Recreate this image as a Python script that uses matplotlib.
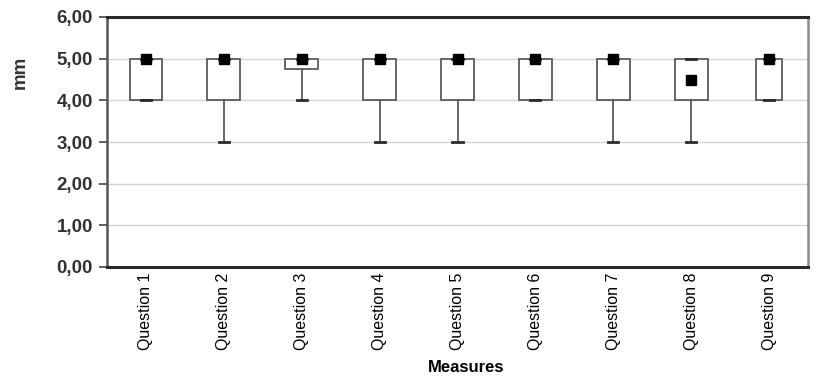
import matplotlib
matplotlib.use('Agg')
import matplotlib.pyplot as plt

# Box plot summary per question
labels = ['Question 1', 'Question 2', 'Question 3', 'Question 4', 'Question 5',
          'Question 6', 'Question 7', 'Question 8', 'Question 9']
box_low = [4.0, 4.0, 4.75, 4.0, 4.0, 4.0, 4.0, 4.0, 4.0]
box_high = [5.0, 5.0, 5.0, 5.0, 5.0, 5.0, 5.0, 5.0, 5.0]
whisk_low = [4.0, 3.0, 4.0, 3.0, 3.0, 4.0, 3.0, 3.0, 4.0]
whisk_high = [5.0, 5.0, 5.0, 5.0, 5.0, 5.0, 5.0, 5.0, 5.0]
centre = [5.0, 5.0, 5.0, 5.0, 5.0, 5.0, 5.0, 4.5, 5.0]

plt.rcParams['font.family'] = ['Liberation Sans', 'DejaVu Sans']

stats = []
for i in range(len(labels)):
    stats.append({
        'label': labels[i],
        'q1': box_low[i], 'q3': box_high[i],
        'whislo': whisk_low[i], 'whishi': whisk_high[i],
        'med': centre[i], 'mean': centre[i], 'fliers': [],
    })

fig = plt.figure(figsize=(8.31, 3.84), dpi=100)
ax = fig.add_axes([107 / 831, 1 - 267 / 384, 701 / 831, 250 / 384])

ax.yaxis.grid(True, color='#d4d4d4', linewidth=1.0)
ax.set_axisbelow(True)

box_widths = [0.42] * 8 + [0.34]
ax.bxp(stats, positions=range(len(labels)), widths=box_widths, showmeans=True,
       capwidths=0.13, patch_artist=True,
       boxprops=dict(facecolor='white', edgecolor='#5a5a5a', linewidth=1.3),
       whiskerprops=dict(color='#5a5a5a', linewidth=1.3),
       capprops=dict(color='#2a2a2a', linewidth=2.0),
       medianprops=dict(linewidth=0),
       meanprops=dict(marker='s', markersize=7.5, markerfacecolor='black',
                      markeredgecolor='black'))

ax.set_xlim(-0.5, len(labels) - 0.5)
ax.set_ylim(0, 6)
ax.set_yticks(range(0, 7))
ax.set_yticklabels([f'{v},00' for v in range(0, 7)], fontsize=13.5,
                   fontweight='bold', color='#333333')
ax.set_xticks(range(len(labels)))
ax.set_xticklabels(labels, rotation=90, fontsize=11.5, color='black')
ax.tick_params(axis='x', length=0, pad=4)
ax.tick_params(axis='y', length=6, width=1.2, color='#444444', pad=4)

for side in ['top', 'bottom']:
    ax.spines[side].set_linewidth(2.2)
    ax.spines[side].set_color('#2a2a2a')
ax.spines['left'].set_linewidth(1.8)
ax.spines['left'].set_color('#555555')
ax.spines['right'].set_linewidth(1.8)
ax.spines['right'].set_color('#8a8a8a')

ax.set_ylabel('mm', fontsize=13.5, fontweight='bold', color='#333333')
ax.yaxis.set_label_coords(-0.112, 0.78)
ax.set_xlabel('Measures', fontsize=12, fontweight='bold')
ax.xaxis.set_label_coords(0.513, -0.37)

fig.savefig('out.png', dpi=100, facecolor='white')
